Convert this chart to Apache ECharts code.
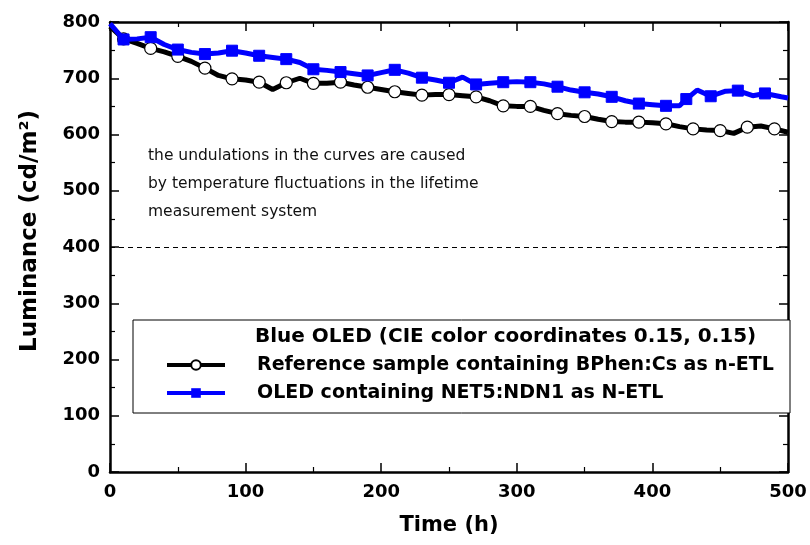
<!DOCTYPE html>
<html><head><meta charset="utf-8">
<script src="https://cdn.jsdelivr.net/npm/echarts@6/dist/echarts.min.js"></script>
<style>html,body{margin:0;padding:0;background:#fff}#c{width:810px;height:545px}</style>
</head><body><div id="c"></div>
<script>
// Time (h) and luminance (cd/m^2)
const refTime = [0,10,20,30,40,50,60,70,80,90,100,110,120,130,140,150,160,170,180,190,200,210,220,230,240,250,260,270,280,290,300,310,320,330,340,350,360,370,380,390,400,410,420,430,440,450,460,470,480,490,500];
const refLum  = [792,770,762,753,747,739,730,718,705,699,697,693,680,692,700,691,691,693,688,684,680,676,673,670,671,671,669,667,660,651,650,650,643,637,634,632,627,623,622,622,621,619,614,610,608,607,602,613,615,610,604];
const refMarkerTimes = [10,30,50,70,90,110,130,150,170,190,210,230,250,270,290,310,330,350,370,390,410,430,450,470,490];

const netTime = [0,10,20,30,40,50,60,70,80,90,100,110,120,130,140,150,160,170,180,190,200,210,220,230,240,250,260,270,280,290,300,310,320,330,340,350,360,370,380,390,400,410,420,425,433,443,454,463,474,483,495,500];
const netLum  = [797,769,770,773,760,751,746,743,745,749,745,740,737,734,728,716,714,711,708,705,710,715,709,701,697,692,702,689,691,693,694,693,690,685,679,675,672,667,660,655,653,651,651,663,679,668,677,678,669,673,667,665];
const netMarkerTimes = [10,30,50,70,90,110,130,150,170,190,210,230,250,270,290,310,330,350,370,390,410,425,443,463,483];

const xTicks = [0,100,200,300,400,500];
const yTicks = [0,100,200,300,400,500,600,700,800];

const legendTitle = 'Blue OLED (CIE color coordinates 0.15, 0.15)';
const refName = 'Reference sample containing BPhen:Cs as n-ETL';
const netName = 'OLED containing NET5:NDN1 as N-ETL';
const noteLines = ['the undulations in the curves are caused','by temperature fluctuations in the lifetime','measurement system'];
const yTitle = 'Luminance (cd/m²)';
const xTitle = 'Time (h)';

const BOLD = 'DejaVu Sans, Liberation Sans, sans-serif';
const chart = echarts.init(document.getElementById('c'));

function pts(ts, ys, marks) {
  return ts.map((t, i) => ({value: [t, ys[i]], symbol: marks.includes(t) ? undefined : 'none'}));
}

const axisCommon = {
  min: 0, interval: 100,
  axisLine: {show: true, onZero: false, lineStyle: {color: '#000', width: 2.5}},
  axisTick: {show: true, inside: true, length: 9, lineStyle: {color: '#000', width: 1.5}},
  minorTick: {show: true, splitNumber: 2, length: 5, lineStyle: {color: '#000', width: 1.2}},
  splitLine: {show: false}
};

chart.setOption({
  animation: false,
  grid: {left: 110, right: 22, top: 22, bottom: 73},
  xAxis: [
    Object.assign({}, axisCommon, {type: 'value', max: 500, position: 'bottom',
      name: xTitle, nameLocation: 'middle', nameGap: 43,
      nameTextStyle: {fontFamily: BOLD, fontWeight: 'bold', fontSize: 21, color: '#000'},
      axisLabel: {fontFamily: BOLD, fontWeight: 'bold', fontSize: 18, color: '#000', margin: 11,
        formatter: v => xTicks.includes(v) ? String(v) : ''}}),
    Object.assign({}, axisCommon, {type: 'value', max: 500, position: 'top', axisLabel: {show: false}})
  ],
  yAxis: [
    Object.assign({}, axisCommon, {type: 'value', max: 800, position: 'left',
      axisLabel: {fontFamily: BOLD, fontWeight: 'bold', fontSize: 18, color: '#000', margin: 10,
        formatter: v => yTicks.includes(v) ? String(v) : ''}}),
    Object.assign({}, axisCommon, {type: 'value', max: 800, position: 'right', axisLabel: {show: false}})
  ],
  legend: {
    z: 20, orient: 'vertical', left: 165, top: 355, itemGap: 8, padding: 0,
    itemWidth: 58, itemHeight: 12,
    lineStyle: {width: 4},
    textStyle: {fontFamily: BOLD, fontWeight: 'bold', fontSize: 19, lineHeight: 20, color: '#000', padding: [0,0,0,27]},
    data: [refName, netName]
  },
  graphic: [
    {type: 'rect', z: 5, shape: {x: 133, y: 320, width: 657, height: 93},
      style: {fill: '#fff', stroke: '#000', lineWidth: 1}},
    {type: 'text', z: 30, left: 255, top: 327,
      style: {text: legendTitle, font: 'bold 20px ' + BOLD, fill: '#000'}},
    {type: 'text', z: 6, left: 148, top: 142,
      style: {text: noteLines.join('\n'), font: '15.5px DejaVu Sans, sans-serif', fill: '#111', lineHeight: 28}},
    {type: 'text', z: 6, x: 30, y: 231, rotation: Math.PI / 2,
      style: {text: yTitle, font: 'bold 23px ' + BOLD, fill: '#000', align: 'center', verticalAlign: 'middle'}}
  ],
  series: [
    {name: refName, type: 'line', z: 3, data: pts(refTime, refLum, refMarkerTimes),
      symbol: 'circle', symbolSize: 12,
      lineStyle: {color: '#000', width: 5},
      itemStyle: {color: '#fff', borderColor: '#000', borderWidth: 1.2},
      markLine: {silent: true, symbol: 'none', label: {show: false},
        lineStyle: {color: '#000', type: [5, 4], width: 1},
        data: [{yAxis: 400}]}},
    {name: netName, type: 'line', z: 4, data: pts(netTime, netLum, netMarkerTimes),
      symbol: 'rect', symbolSize: 11,
      lineStyle: {color: '#0000ff', width: 5},
      itemStyle: {color: '#0000ff', borderColor: '#0000ff'}}
  ]
});
</script></body></html>
